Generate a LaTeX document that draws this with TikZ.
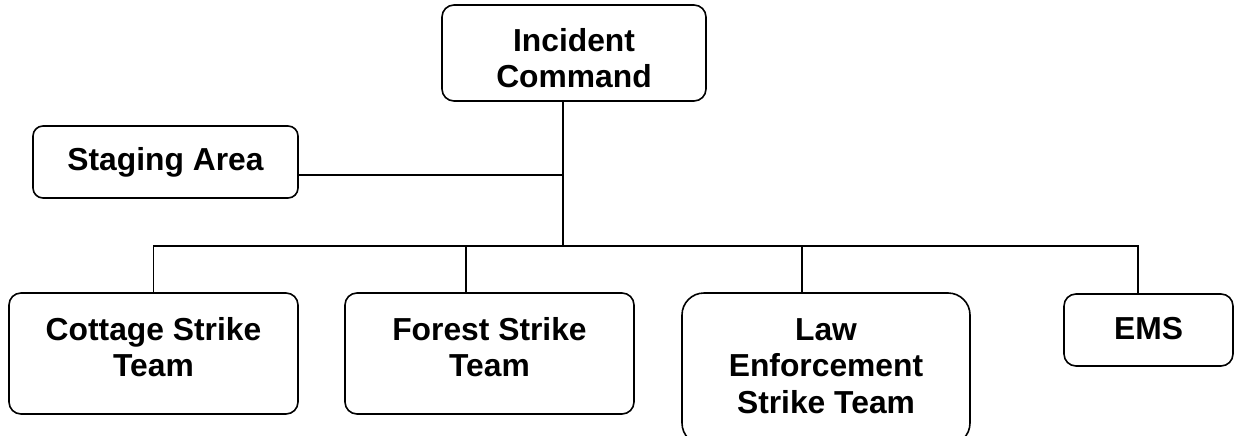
\documentclass[tikz,border=0pt]{standalone}
\usepackage{fontspec}
\setmainfont{Liberation Sans}
\begin{document}
\begin{tikzpicture}[x=1pt,y=-1pt,
  box/.style={draw=black,line width=1.6pt,rounded corners=12pt,fill=white,inner sep=0pt,outer sep=0pt},
  lbl/.style={anchor=north,align=center,inner sep=0pt,font=\bfseries\fontsize{31.8}{36.5}\selectfont},
  wire/.style={draw=black,line width=1.6pt}]
  \clip (0,0) rectangle (1236,436);
  \fill[white] (0,0) rectangle (1236,436);

  % boxes
  \node[box,minimum width=264pt,minimum height=96pt] (ic) at (574,53) {};
  \node[box,minimum width=265pt,minimum height=72pt,rounded corners=10pt] (st) at (165.5,162) {};
  \node[box,minimum width=289pt,minimum height=121pt] (ct) at (153.5,353.5) {};
  \node[box,minimum width=289pt,minimum height=121pt] (fo) at (489.5,353.5) {};
  \node[box,minimum width=288pt,minimum height=152pt,rounded corners=22pt] (lw) at (826,369) {};
  \node[box,minimum width=169pt,minimum height=72pt] (em) at (1148.5,330) {};

  % labels
  \node[lbl] (ict) at ([yshift=-23pt]ic.north) {Incident\\Command};
  \node[lbl] (stt) at ([yshift=-21pt]st.north) {Staging Area};
  \node[lbl] (ctt) at ([yshift=-24pt]ct.north) {Cottage Strike\\Team};
  \node[lbl] (fot) at ([yshift=-24pt]fo.north) {Forest Strike\\Team};
  \node[lbl] (lwt) at ([yshift=-25pt]lw.north) {Law\\Enforcement\\Strike Team};
  \node[lbl] (emt) at ([yshift=-23pt]em.north) {EMS};

  % connectors
  \coordinate (j) at (563,246);
  \draw[wire] ([xshift=-11pt]ic.south) -- (j);
  \draw[wire] ([yshift=-13pt]st.east) -- ([yshift=-13pt]st.east -| j);
  \draw[wire] (ct.north) |- ([xshift=-10.5pt]em.north |- j) -- ([xshift=-10.5pt]em.north);
  \draw[wire] ([xshift=-23.5pt]fo.north) -- ([xshift=-23.5pt]fo.north |- j);
  \draw[wire] ([xshift=-24pt]lw.north) -- ([xshift=-24pt]lw.north |- j);
\end{tikzpicture}
\end{document}
